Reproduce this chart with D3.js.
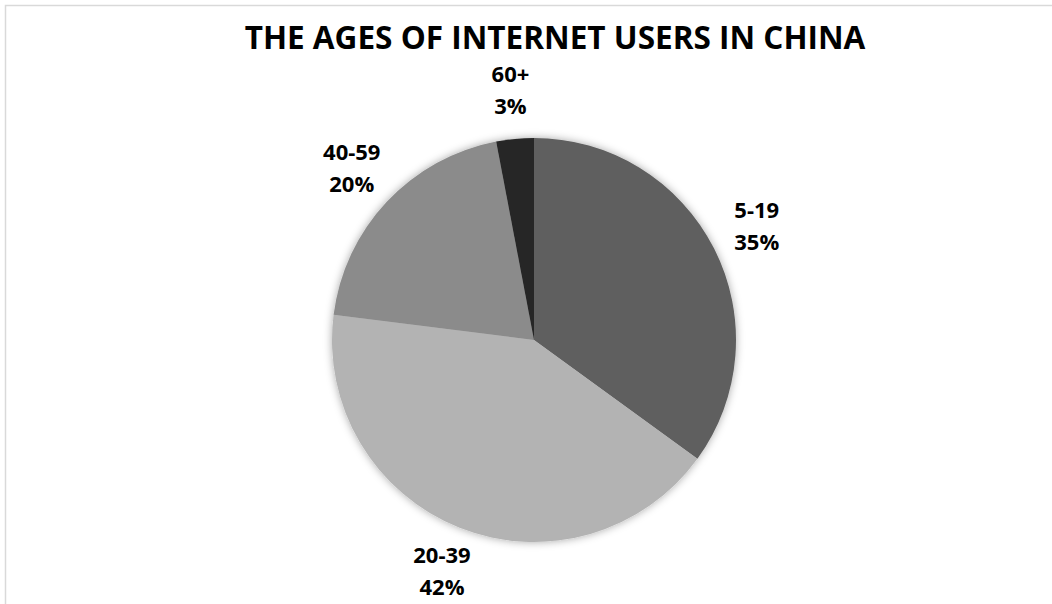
<!DOCTYPE html>
<html>
<head>
<meta charset="utf-8">
<script src="https://cdn.jsdelivr.net/npm/d3@7"></script>
<style>
  body { margin: 0; background: #fff; }
  text { font-family: "Open Sans", sans-serif; font-weight: bold; fill: #000; }
</style>
</head>
<body>
<div id="chart"></div>
<script>
// data
const ages = ["5-19", "20-39", "40-59", "60+"];
const shares = [35, 42, 20, 3];
const shades = ["#5f5f5f", "#b3b3b3", "#8b8b8b", "#262626"];
const title = "THE AGES OF INTERNET USERS IN CHINA";

const width = 1052, height = 604;
const cx = 534, cy = 340, radius = 202;

const svg = d3.select("#chart").append("svg")
    .attr("width", width)
    .attr("height", height);

// chart area border (runs off the right and bottom edge)
svg.append("rect")
    .attr("x", 5.5).attr("y", 5.5)
    .attr("width", 1100).attr("height", 700)
    .attr("fill", "#fff")
    .attr("stroke", "#d9d9d9")
    .attr("stroke-width", 1.5);

// soft shadow like the excel pie
const defs = svg.append("defs");
defs.append("filter")
    .attr("id", "shadow")
    .attr("x", "-20%").attr("y", "-20%")
    .attr("width", "140%").attr("height", "140%")
  .append("feDropShadow")
    .attr("dx", 0).attr("dy", 0)
    .attr("stdDeviation", 4)
    .attr("flood-color", "#000")
    .attr("flood-opacity", 0.35);

const data = ages.map((a, i) => ({age: a, value: shares[i]}));

const pie = d3.pie().value(d => d.value).sort(null);
const arc = d3.arc().innerRadius(0).outerRadius(radius);
const labelArc = d3.arc().innerRadius(radius + 48).outerRadius(radius + 48);

const color = d3.scaleOrdinal().domain(ages).range(shades);

const g = svg.append("g")
    .attr("transform", "translate(" + cx + "," + cy + ")");

g.append("g")
    .attr("filter", "url(#shadow)")
  .selectAll("path")
  .data(pie(data))
  .join("path")
    .attr("d", arc)
    .attr("fill", d => color(d.data.age));

// data labels: category on top, percent below
const labels = g.selectAll(".lbl")
  .data(pie(data))
  .join("text")
    .attr("class", "lbl")
    .attr("text-anchor", "middle")
    .attr("font-size", 22)
    .attr("transform", d => "translate(" + labelArc.centroid(d) + ")");

labels.append("tspan")
    .attr("x", 0).attr("dy", -9)
    .text(d => d.data.age);
labels.append("tspan")
    .attr("x", 0).attr("dy", 32)
    .text(d => d.data.value + "%");

// title, sized to the width it takes in the picture
const t = svg.append("text")
    .attr("x", 555)
    .attr("y", 49)
    .attr("text-anchor", "middle")
    .attr("font-size", 29)
    .text(title);
const w = t.node().getComputedTextLength();
t.attr("font-size", 29 * 621 / w);
</script>
</body>
</html>
